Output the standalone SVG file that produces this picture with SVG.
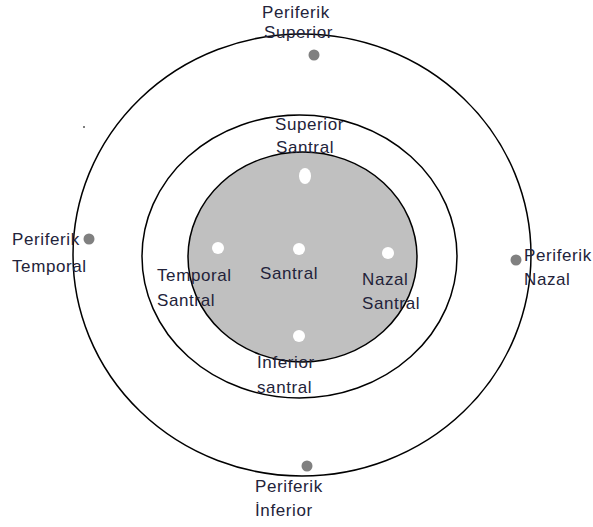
<svg xmlns="http://www.w3.org/2000/svg" width="593" height="527" viewBox="0 0 593 527">
<style>
.ring{fill:none;stroke:#000;stroke-width:1.5}
.core{fill:#c0c0c0;stroke:#000;stroke-width:1.5}
.pdot{fill:#808080}
.wdot{fill:#fff}
text{font-family:"Liberation Sans",Arial,sans-serif;font-size:17px;letter-spacing:0.6px;fill:#23233a}
</style>
<rect width="593" height="527" fill="#fff"/>
<g id="rings">
<ellipse id="outer" class="ring" cx="302" cy="255" rx="229" ry="221"/>
<ellipse id="middle" class="ring" cx="299.5" cy="256.5" rx="157.5" ry="141.5"/>
<ellipse id="inner" class="core" cx="302.5" cy="257" rx="114.5" ry="105"/>
</g>
<circle cx="84" cy="127" r="1" fill="#555"/>
<g id="periferik-superior">
<circle class="pdot" cx="314" cy="55" r="5.5"/>
<text x="262" y="18">Periferik</text>
<text x="264" y="38">Superior</text>
</g>
<g id="periferik-temporal">
<circle class="pdot" cx="89" cy="239" r="5.5"/>
<text x="12" y="245">Periferik</text>
<text x="12" y="272">Temporal</text>
</g>
<g id="periferik-nazal">
<circle class="pdot" cx="516" cy="260" r="5.5"/>
<text x="524" y="261">Periferik</text>
<text x="524" y="285">Nazal</text>
</g>
<g id="periferik-inferior">
<circle class="pdot" cx="307" cy="466" r="5.5"/>
<text x="255" y="492">Periferik</text>
<text x="255" y="516">İnferior</text>
</g>
<g id="superior-santral">
<ellipse class="wdot" cx="305" cy="176" rx="6" ry="8"/>
<text x="275" y="130">Superior</text>
<text x="276" y="153">Santral</text>
</g>
<g id="temporal-santral">
<circle class="wdot" cx="218" cy="248" r="6"/>
<text x="157" y="281">Temporal</text>
<text x="157" y="306">Santral</text>
</g>
<g id="santral">
<circle class="wdot" cx="299" cy="249" r="6"/>
<text x="260" y="279">Santral</text>
</g>
<g id="nazal-santral">
<circle class="wdot" cx="388" cy="253" r="6"/>
<text x="362" y="285">Nazal</text>
<text x="362" y="309">Santral</text>
</g>
<g id="inferior-santral">
<circle class="wdot" cx="299" cy="336" r="6"/>
<text x="257" y="368">İnferior</text>
<text x="257" y="393">santral</text>
</g>
<g id="connectors"/>
</svg>
